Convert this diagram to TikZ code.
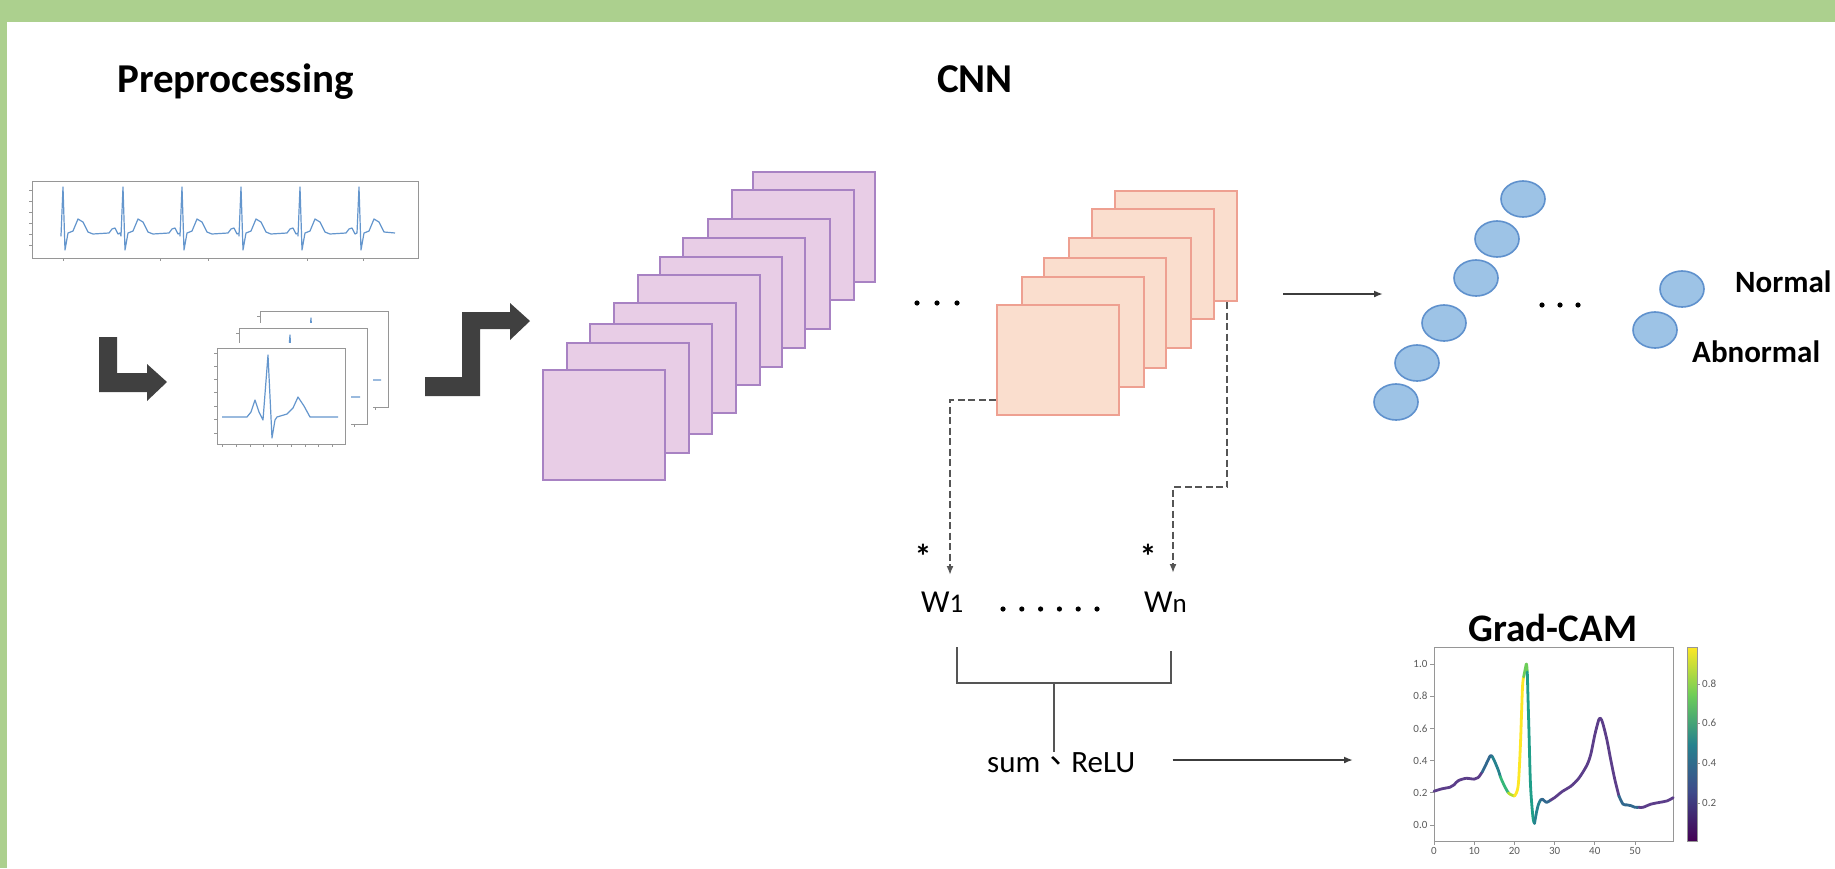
\documentclass[tikz,border=0pt]{standalone}
\usepackage{fontspec}
\setmainfont{Carlito}
\newfontfamily\cjkfont{Noto Sans CJK TC}
\usetikzlibrary{shapes.geometric}
\usetikzlibrary{arrows.meta}

\definecolor{bandgreen}{RGB}{172,208,142}
\definecolor{mapfillP}{RGB}{232,205,230}
\definecolor{mapdrawP}{RGB}{168,130,195}
\definecolor{mapfillO}{RGB}{250,222,206}
\definecolor{mapdrawO}{RGB}{238,160,145}
\definecolor{neuronfill}{RGB}{157,195,230}
\definecolor{neurondraw}{RGB}{95,145,205}
\definecolor{blockgray}{RGB}{64,64,64}
\definecolor{linkgray}{RGB}{85,85,85}
\definecolor{arrowgray}{RGB}{60,60,60}
\definecolor{plotgray}{RGB}{150,150,150}
\definecolor{tickgray}{RGB}{90,90,90}
\definecolor{ecgblue}{RGB}{100,150,205}
\definecolor{campurple}{RGB}{92,62,138}
\definecolor{vir0}{RGB}{68,1,84}
\definecolor{vir2}{RGB}{62,73,137}
\definecolor{vir3}{RGB}{49,104,142}
\definecolor{vir4}{RGB}{38,130,142}
\definecolor{vir5}{RGB}{31,158,137}
\definecolor{vir6}{RGB}{53,183,121}
\definecolor{vir7}{RGB}{109,205,89}
\definecolor{vir8}{RGB}{180,222,44}
\definecolor{vir9}{RGB}{253,231,37}

\tikzset{
	title/.style={font=\fontsize{41}{48}\selectfont\bfseries, anchor=base west, inner sep=0pt},
	outlab/.style={font=\fontsize{31}{36}\selectfont\bfseries, anchor=base west, inner sep=0pt},
	wlab/.style={font=\fontsize{32}{36}\selectfont, anchor=base west, inner sep=0pt},
	astx/.style={font=\fontsize{34}{38}\selectfont\bfseries, anchor=base, inner sep=0pt},
	sumlab/.style={font=\fontsize{31}{36}\selectfont, anchor=base west, inner sep=0pt},
	ticklab/.style={font=\fontsize{11}{13}\selectfont, text=tickgray, inner sep=0pt},
	fmapP/.style={draw=mapdrawP, fill=mapfillP, line width=2pt, minimum width=122pt, minimum height=110pt, anchor=north west, inner sep=0pt},
	fmapO/.style={draw=mapdrawO, fill=mapfillO, line width=2pt, minimum width=122pt, minimum height=110pt, anchor=north west, inner sep=0pt},
	neuron/.style={ellipse, draw=neurondraw, fill=neuronfill, line width=1.6pt, minimum width=44pt, minimum height=36pt, inner sep=0pt},
	dashlink/.style={draw=linkgray, line width=2pt, dash pattern=on 7pt off 3.5pt, -{Latex[length=9pt,width=7pt]}},
	thinarrow/.style={draw=arrowgray, line width=1.8pt, -{Latex[length=9pt,width=7pt]}},
	bracketline/.style={draw=linkgray, line width=2pt},
	axisgray/.style={draw=plotgray, line width=0.9pt},
	ecgline/.style={draw=ecgblue, line width=1.2pt, line join=round},
	camline/.style={line width=2.8pt, line cap=round, line join=round}
}

\begin{document}
\begin{tikzpicture}[x=1pt,y=-1pt]
	\useasboundingbox (0,0) rectangle (1835,868);
	\fill[white] (0,0) rectangle (1835,868);
	\fill[bandgreen] (0,0) rectangle (1835,22);
	\fill[bandgreen] (0,0) rectangle (7,868);

	\node[title] (pre) at (117,92) {Preprocessing};
	\node[title] (cnn) at (937,92) {CNN};
	\node[title, anchor=base, font=\fontsize{39}{46}\selectfont\bfseries] (gcam) at (1553,641) {Grad-CAM};

	% raw ECG record
	\draw[axisgray] (32,181) rectangle (418,258);
	\foreach \t in {190,201,212,223,234,245} \draw[axisgray] (29,\t) -- (32,\t);
	\foreach \t in {63,160,208,307,363} \draw[axisgray] (\t,258) -- (\t,261);
	\draw[ecgline] (61,233) \foreach \r in {63,123,182,241,300} {-- (\r-2,236) -- (\r,187) -- (\r+2,250) -- (\r+5,233) -- (\r+10,231) -- (\r+15,219) -- (\r+20,222) -- (\r+25,232) -- (\r+30,234) -- (\r+46,233) -- (\r+49,229) -- (\r+52,228) -- (\r+55,234) -- (\r+57,233)}
		-- (359,187) -- (361,250) -- (364,233) -- (369,231) -- (374,219) -- (379,222) -- (384,232) -- (395,233);

	% single beats
	\foreach \px/\py in {260/311,239/328,217/348} {
		\begin{scope}[shift={(\px,\py)}]
			\fill[white] (-14,-5) rectangle (134,112);
			\draw[axisgray] (0,0) rectangle (128,96);
			\foreach \t in {5,19,33,46,60,74,88,101,115} \draw[axisgray] (\t,96) -- (\t,99);
			\foreach \t in {5,18,31,44,58,71,85} \draw[axisgray] (-3,\t) -- (0,\t);
			\draw[ecgline] (5,69) -- (30,69) -- (34,64) -- (38,52) -- (42,64) -- (46,72) -- (51,7) -- (55,90) -- (58,72) -- (60,69) -- (70,66) -- (76,60) -- (81,49) -- (87,58) -- (93,69) -- (121,69);
		\end{scope}
	}

	\fill[blockgray] (99,337) -- (117,337) -- (117,373) -- (147,373) -- (147,364) -- (167,382) -- (147,401) -- (147,392) -- (99,392) -- cycle;
	\fill[blockgray] (425,377) -- (462,377) -- (462,312) -- (510,312) -- (510,303) -- (530,321) -- (510,340) -- (510,329) -- (480,329) -- (480,396) -- (425,396) -- cycle;

	% feature maps
	\foreach \x/\y [count=\i] in {752/171,731/189,707/218,682/237,659/256,637/274,613/302,589/323,566/342,542/369}
		\node[fmapP] (p\i) at (\x,\y) {};
	\foreach \x in {917,937,957} \fill (\x,303) circle (2.6pt);
	\foreach \x/\y [count=\i] in {1114/190,1091/208,1068/237,1043/257,1021/276,996/304}
		\node[fmapO] (o\i) at (\x,\y) {};

	% dense layer
	\foreach \x/\y [count=\i] in {1396/402,1417/363,1444/323,1476/278,1497/239,1523/199}
		\node[neuron] (h\i) at (\x,\y) {};
	\foreach \x in {1542,1560,1578} \fill (\x,305) circle (2.6pt);
	\node[neuron] (yn) at (1682,289) {};
	\node[neuron] (ya) at (1655,330) {};
	\node[outlab] (ln) at (1735,292) {Normal};
	\node[outlab] (la) at (1692,362) {Abnormal};
	\coordinate (fcin) at (1383,294);
	\draw[thinarrow, shorten <=45pt] (o1.east |- fcin) -- (fcin);

	% weights
	\node[astx] (s1) at (923,568) {*};
	\node[astx] (s2) at (1148,568) {*};
	\node[wlab] (w1) at (921,612) {W\fontsize{27}{30}\selectfont 1};
	\node[wlab] (wn) at (1144,612) {W\fontsize{27}{30}\selectfont n};
	\foreach \i in {0,...,5} \fill (1003+\i*18.8,609) circle (2.6pt);

	\coordinate (t1) at (950,400);
	\coordinate (a1) at (950,575);
	\draw[dashlink] (o6.west |- t1) -- (t1) -- (a1);
	\coordinate (t2) at (1227,487);
	\coordinate (t3) at (1173,487);
	\coordinate (a2) at (1173,573);
	\draw[dashlink] (t2 |- o1.south) -- (t2) -- (t3) -- (a2);

	\node[sumlab] (sum) at (987,772) {sum{\cjkfont 、}ReLU};
	\coordinate (bl) at (957,647);
	\coordinate (br) at (1171,651);
	\coordinate (bm) at (1054,683);
	\draw[bracketline] (bl) |- (bm) -| (br);
	\draw[bracketline] (bm) -- (bm |- sum.north);
	\coordinate (camin) at (1353,760);
	\draw[thinarrow, shorten <=37pt] (sum.east |- camin) -- (camin);

	% grad-cam plot
	\begin{scope}[shift={(1434,825)}, x=4.02pt, y=161pt]
		\draw[axisgray] (0,-0.1) rectangle (59.5,1.105);
		\foreach \v [count=\i] in {0.0,0.2,0.4,0.6,0.8,1.0} {
			\draw[axisgray] (-1,\v) -- (0,\v);
			\node[ticklab, anchor=east] (ty\i) at (-1.6,\v) {\v};
		}
		\foreach \v [count=\i] in {0,10,20,30,40,50} {
			\draw[axisgray] (\v,-0.1) -- (\v,-0.125);
			\node[ticklab, anchor=north] (tx\i) at (\v,-0.14) {\v};
		}
		\draw[camline, campurple] plot[smooth] coordinates {(0,0.21) (2,0.225) (4,0.235) (5,0.25) (6,0.275) (8,0.29) (10,0.285) (11,0.295) (12,0.33)};
		\draw[camline, vir3] plot[smooth] coordinates {(12,0.33) (13,0.38) (14,0.43) (14.5,0.425)};
		\draw[camline, vir4] plot[smooth] coordinates {(14.5,0.425) (15,0.40) (16,0.34) (16.5,0.30)};
		\draw[camline, vir6] plot[smooth] coordinates {(16.5,0.30) (17,0.27) (18,0.22) (18.5,0.20)};
		\draw[camline, vir8] plot[smooth] coordinates {(18.5,0.20) (19,0.19) (20,0.18)};
		\draw[camline, vir9] plot[smooth] coordinates {(20,0.18) (20.5,0.2) (21,0.26) (21.5,0.5) (22,0.85) (22.3,0.92)};
		\draw[camline, vir7] plot[smooth] coordinates {(22.3,0.92) (22.7,0.97) (23,1.0) (23.2,0.95)};
		\draw[camline, vir5] plot[smooth] coordinates {(23.2,0.95) (23.6,0.6) (24,0.25) (24.6,0.05) (25,0.01)};
		\draw[camline, vir4] plot[smooth] coordinates {(25,0.01) (25.5,0.08) (26,0.13) (26.5,0.155)};
		\draw[camline, vir3] plot[smooth] coordinates {(26.5,0.155) (27,0.16) (28,0.14) (29,0.155)};
		\draw[camline, campurple] plot[smooth] coordinates {(29,0.155) (30,0.17) (32,0.21) (34,0.24) (36,0.29) (38,0.37) (39,0.44) (40,0.56) (41,0.655) (41.5,0.66) (42,0.63) (43,0.53) (44,0.4) (45,0.28) (46,0.18)};
		\draw[camline, vir3] plot[smooth] coordinates {(46,0.18) (47,0.13) (48,0.125) (49,0.12) (50,0.11) (51,0.11)};
		\draw[camline, campurple] plot[smooth] coordinates {(51,0.11) (52,0.11) (54,0.13) (56,0.14) (58,0.15) (59.5,0.17)};
	\end{scope}
	\shade[bottom color=vir0, top color=vir2] (1687,792) rectangle (1697,841);
	\shade[bottom color=vir2, top color=vir4] (1687,744) rectangle (1697,792.5);
	\shade[bottom color=vir4, top color=vir7] (1687,695) rectangle (1697,744.5);
	\shade[bottom color=vir7, top color=vir9] (1687,647) rectangle (1697,695.5);
	\draw[axisgray] (1687,647) rectangle (1697,841);
	\foreach \v/\yy [count=\i] in {0.8/684,0.6/723,0.4/763,0.2/803} {
		\draw[axisgray] (1697,\yy) -- (1700,\yy);
		\node[ticklab, anchor=west] (tc\i) at (1702,\yy) {\v};
	}
\end{tikzpicture}
\end{document}
